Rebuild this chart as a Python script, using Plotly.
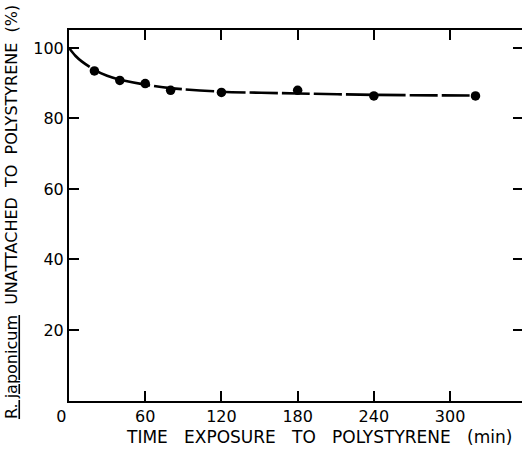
import plotly.graph_objects as go

# Measured data (time in min, % unattached)
time_min = [20, 40, 60, 80, 120, 180, 240, 320]
unattached_pct = [93.5, 90.8, 89.9, 88.0, 87.4, 88.0, 86.4, 86.4]

# Hand-drawn fitted curve through the data
curve_time = [0, 5, 10, 20, 30, 40, 60, 80, 120, 180, 240, 320]
curve_pct = [100, 97.8, 96.2, 93.8, 92.1, 91.0, 89.6, 88.6, 87.6, 87.1, 86.7, 86.5]

x_tickvals = [0, 60, 120, 180, 240, 300]
x_ticktext = ["0\u00a0\u00a0\u00a0", "60", "120", "180", "240", "300"]
y_tickvals = [20, 40, 60, 80, 100]
y_ticktext = ["20", "40", "60", "80", "100"]

SP = "\u00a0\u00a0\u00a0"
x_title = SP.join(["TIME", "EXPOSURE", "TO", "POLYSTYRENE", "(min)"])
y_title = "<u>R.\u00a0japonicum</u>  UNATTACHED  TO  POLYSTYRENE  (%)"

FONT = "DejaVu Sans"

fig = go.Figure()
fig.add_trace(go.Scatter(
    x=curve_time, y=curve_pct, mode="lines",
    line=dict(color="black", width=2.6, dash="28px,4px", shape="spline", smoothing=0.8),
    hoverinfo="skip", showlegend=False,
))
fig.add_trace(go.Scatter(
    x=time_min, y=unattached_pct, mode="markers",
    marker=dict(color="black", size=9.5),
    showlegend=False,
))

# figure slightly wider than the window so the right spine falls just outside
fig.update_layout(
    width=525, height=450,
    margin=dict(l=69, r=0, t=30, b=49),
    paper_bgcolor="white", plot_bgcolor="white",
    font=dict(family=FONT, color="black", size=16),
    xaxis=dict(
        range=[0, 357.4], tickmode="array", tickvals=x_tickvals, ticktext=x_ticktext,
        ticks="inside", ticklen=10, tickwidth=2, tickcolor="black",
        showline=True, linewidth=2, linecolor="black", mirror="ticks",
        showgrid=False, zeroline=False,
    ),
    yaxis=dict(
        range=[-0.15, 105.1], tickmode="array", tickvals=y_tickvals, ticktext=y_ticktext,
        ticks="inside", ticklen=10, tickwidth=2, tickcolor="black",
        showline=True, linewidth=2, linecolor="black", mirror="ticks",
        showgrid=False, zeroline=False,
    ),
    annotations=[
        dict(text=x_title, xref="paper", yref="paper", x=0.551, y=-0.097,
             xanchor="center", yanchor="middle", showarrow=False,
             font=dict(size=17, family=FONT)),
        dict(text=y_title, xref="paper", yref="paper", x=-0.125, y=0.51,
             xanchor="center", yanchor="middle", textangle=-90, showarrow=False,
             font=dict(size=16, family=FONT)),
    ],
)

fig.write_html(
    "out.html",
    config={"displayModeBar": False},
    post_script="document.body.style.margin='0';document.body.style.overflow='hidden';",
)
